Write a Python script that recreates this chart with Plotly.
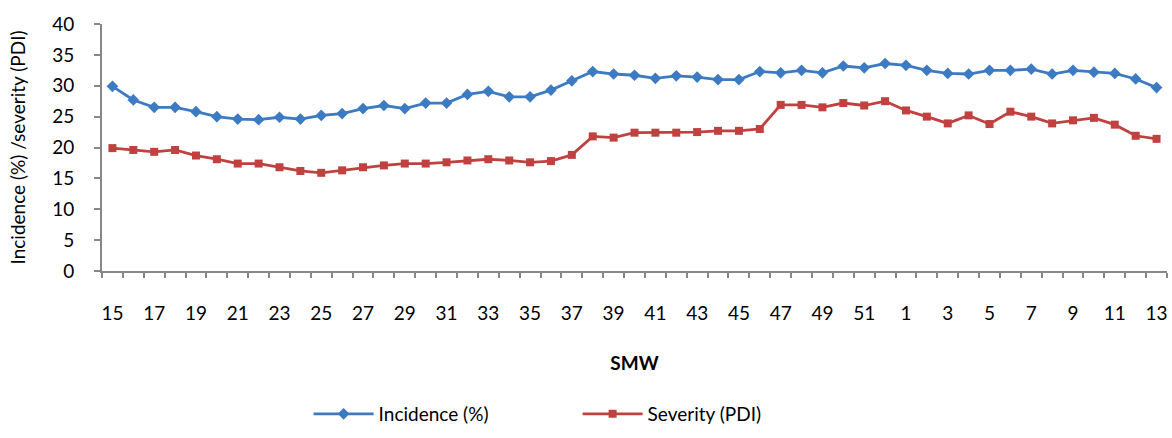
import plotly.graph_objects as go

# Standard meteorological weeks (SMW), crossing the year boundary
smw = list(range(15, 53)) + list(range(1, 14))

incidence = [
    29.9, 27.7, 26.5, 26.5, 25.8, 25.0, 24.6, 24.5, 24.9, 24.6,
    25.2, 25.5, 26.3, 26.8, 26.3, 27.2, 27.2, 28.6, 29.1, 28.2,
    28.2, 29.3, 30.8, 32.3, 31.9, 31.7, 31.2, 31.6, 31.4, 31.0,
    31.0, 32.3, 32.1, 32.5, 32.1, 33.2, 32.9, 33.6, 33.3, 32.5,
    32.0, 31.9, 32.5, 32.5, 32.7, 31.9, 32.5, 32.2, 32.0, 31.1,
    29.7,
]

severity = [
    19.9, 19.6, 19.3, 19.6, 18.7, 18.1, 17.4, 17.4, 16.8, 16.2,
    15.9, 16.3, 16.8, 17.1, 17.4, 17.4, 17.6, 17.9, 18.1, 17.9,
    17.6, 17.8, 18.8, 21.8, 21.6, 22.4, 22.4, 22.4, 22.5, 22.7,
    22.7, 23.0, 26.9, 26.9, 26.5, 27.2, 26.8, 27.5, 26.0, 25.0,
    23.9, 25.2, 23.8, 25.8, 25.0, 23.9, 24.4, 24.8, 23.7, 21.9,
    21.4,
]

y_ticks = list(range(0, 41, 5))

pos = list(range(len(smw)))
label_pos = pos[::2]
label_txt = [str(s) for s in smw[::2]]

font_family = "Lato, 'Liberation Sans', sans-serif"
axis_grey = "#878787"
blue = "#3C7BC2"
red = "#C0413F"

fig = go.Figure()
fig.add_trace(go.Scatter(
    x=pos, y=incidence, name="Incidence (%)", mode="lines+markers",
    line=dict(color=blue, width=2.8),
    marker=dict(symbol="diamond", size=9, color=blue),
))
fig.add_trace(go.Scatter(
    x=pos, y=severity, name="Severity (PDI)", mode="lines+markers",
    line=dict(color=red, width=2.8),
    marker=dict(symbol="square", size=8, color=red),
))

fig.update_layout(
    width=1172, height=438,
    margin=dict(l=102, r=5, t=24, b=160),
    paper_bgcolor="white", plot_bgcolor="white",
    font=dict(family=font_family, size=19, color="#000000"),
    showlegend=True,
    legend=dict(
        orientation="h", x=0.194, xanchor="left", y=-0.579, yanchor="middle",
        entrywidth=194, entrywidthmode="pixels",
        font=dict(size=19), itemwidth=60,
    ),
)

# category axis: labels on every other week, ticks on every boundary
fig.update_xaxes(
    range=[-0.5, len(smw) - 0.5],
    tickmode="array", tickvals=label_pos, ticktext=label_txt,
    ticks="", ticklabelstandoff=24,
    showline=True, linecolor=axis_grey, linewidth=2,
    showgrid=False, zeroline=False,
    minor=dict(ticks="outside", ticklen=5, tickwidth=2, tickcolor=axis_grey,
               tickmode="array", tickvals=[p - 0.5 for p in pos] + [len(smw) - 0.5]),
    title=dict(text="<b>SMW</b>", standoff=34, font=dict(size=19)),
)

fig.update_yaxes(
    range=[0, 40],
    tickmode="array", tickvals=y_ticks,
    ticks="outside", ticklen=6, tickwidth=2, tickcolor=axis_grey,
    ticklabelstandoff=16,
    showline=True, linecolor=axis_grey, linewidth=2,
    showgrid=False, zeroline=False,
    title=dict(text="Incidence (%) /severity (PDI)", standoff=22, font=dict(size=19)),
)

fig.write_html("out.html")
